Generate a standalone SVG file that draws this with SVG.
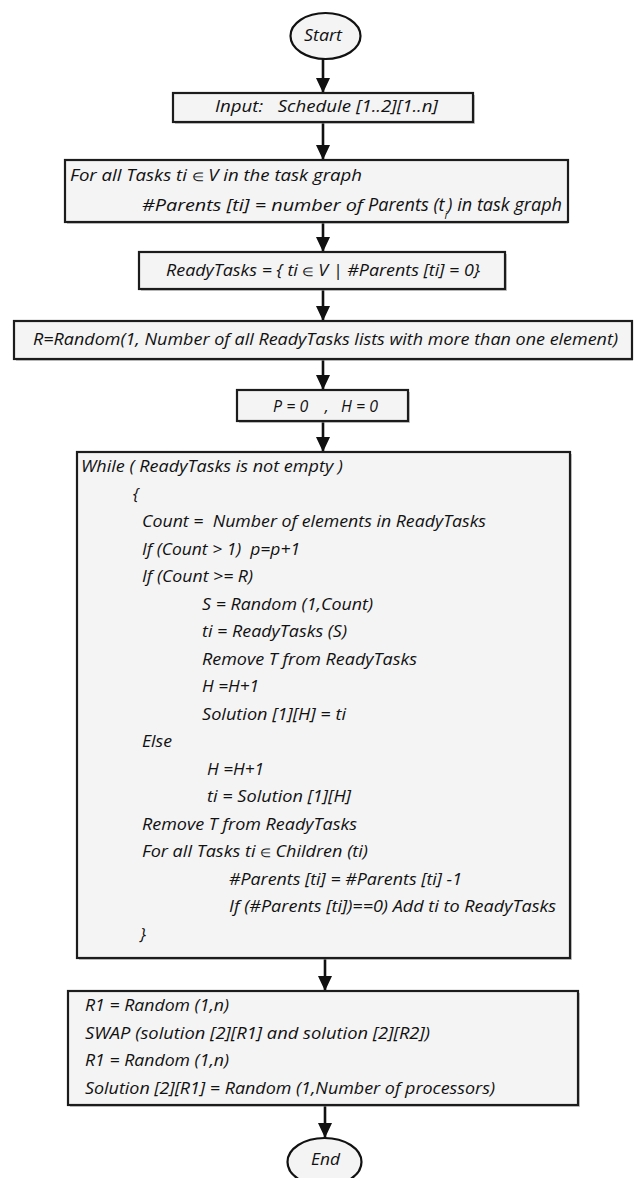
<svg xmlns="http://www.w3.org/2000/svg" width="635" height="1178" viewBox="0 0 635 1178">
  <style>
    .box { fill: #f4f4f4; stroke: #1c1c1c; stroke-width: 2.2; }
    .shadow { fill: #9a9a9a; opacity: 0.55; }
    .term { fill: #f4f4f4; stroke: #111; stroke-width: 2.2; }
    .t { font-family: "Open Sans", "Liberation Sans", sans-serif; font-style: italic; font-weight: 400; font-size: 17px; fill: #111; }
    .s { font-size: 16px; }
    .big { font-size: 18px; }
    .el { font-style: normal; font-size: 12px; }
    .sub { font-size: 11px; }
    .conn line { stroke: #111; stroke-width: 2.6; }
  </style>
  <defs>
    <marker id="arrow" markerUnits="userSpaceOnUse" markerWidth="16" markerHeight="16" viewBox="0 0 16 16" refX="15" refY="8" orient="auto">
      <path d="M0,1 L15,8 L0,15 Z" fill="#111"/>
    </marker>
  </defs>

  <rect width="635" height="1178" fill="#ffffff"/>

  <!-- connectors -->
  <g id="connectors" class="conn">
    <line x1="323" y1="59" x2="323" y2="93" marker-end="url(#arrow)"/>
    <line x1="323" y1="122" x2="323" y2="160" marker-end="url(#arrow)"/>
    <line x1="323" y1="222" x2="323" y2="252" marker-end="url(#arrow)"/>
    <line x1="323" y1="289" x2="323" y2="321" marker-end="url(#arrow)"/>
    <line x1="323" y1="359" x2="323" y2="390" marker-end="url(#arrow)"/>
    <line x1="323" y1="421" x2="323" y2="452" marker-end="url(#arrow)"/>
    <line x1="325" y1="958" x2="325" y2="991" marker-end="url(#arrow)"/>
    <line x1="325" y1="1105" x2="325" y2="1138" marker-end="url(#arrow)"/>
  </g>

  <!-- start terminal -->
  <g id="start">
    <ellipse class="term" cx="325.5" cy="36" rx="35" ry="23"/>
    <text class="t" x="304" y="41" textLength="38" lengthAdjust="spacingAndGlyphs">Start</text>
  </g>

  <!-- input -->
  <g id="input">
    <rect class="shadow" x="175" y="95" width="300" height="29"/>
    <rect class="box" x="173" y="93" width="300" height="29"/>
    <text class="t s" x="215" y="112" textLength="223" lengthAdjust="spacingAndGlyphs" xml:space="preserve">Input:   Schedule [1..2][1..n]</text>
  </g>

  <!-- parent counting -->
  <g id="count-parents">
    <rect class="shadow" x="67" y="162" width="501" height="62"/>
    <rect class="box" x="65" y="160" width="503" height="62"/>
    <text class="t s" x="70" y="181" textLength="292" lengthAdjust="spacingAndGlyphs">For all Tasks ti <tspan class="el">∈</tspan> V in the task graph</text>
    <text class="t s" x="142" y="211" textLength="221" lengthAdjust="spacingAndGlyphs">#Parents [ti] = number of</text>
    <text class="t big" x="368" y="211" textLength="194" lengthAdjust="spacingAndGlyphs">Parents (t<tspan class="sub" baseline-shift="sub">i</tspan>) in task graph</text>
  </g>

  <!-- ready set -->
  <g id="ready-tasks">
    <rect class="shadow" x="141" y="254" width="366" height="37"/>
    <rect class="box" x="139" y="252" width="366" height="37"/>
    <text class="t s" x="166" y="276" textLength="314" lengthAdjust="spacingAndGlyphs">ReadyTasks = { ti <tspan class="el">∈</tspan> V | #Parents [ti] = 0}</text>
  </g>

  <!-- random R -->
  <g id="random-r">
    <rect class="shadow" x="16" y="323" width="617" height="38"/>
    <rect class="box" x="14" y="321" width="618" height="38"/>
    <text class="t" x="33" y="345" textLength="585" lengthAdjust="spacingAndGlyphs">R=Random(1, Number of all ReadyTasks lists with more than one element)</text>
  </g>

  <!-- counters -->
  <g id="init-counters">
    <rect class="shadow" x="239" y="392" width="171" height="31"/>
    <rect class="box" x="237" y="390" width="171" height="31"/>
    <text class="t s" x="273" y="412" textLength="105" lengthAdjust="spacingAndGlyphs" xml:space="preserve">P = 0    ,   H = 0</text>
  </g>

  <!-- main loop -->
  <g id="while-loop">
    <rect class="shadow" x="79" y="454" width="493" height="506"/>
    <rect class="box" x="77" y="452" width="493" height="506"/>
    <text class="t" x="81" y="472" textLength="262" lengthAdjust="spacingAndGlyphs">While ( ReadyTasks is not empty )</text>
    <text class="t" x="133" y="499.5">{</text>
    <text class="t" x="142" y="527" textLength="344" lengthAdjust="spacingAndGlyphs" xml:space="preserve">Count =  Number of elements in ReadyTasks</text>
    <text class="t" x="142" y="554.5" textLength="158" lengthAdjust="spacingAndGlyphs" xml:space="preserve">If (Count &gt; 1)  p=p+1</text>
    <text class="t" x="142" y="582" textLength="111" lengthAdjust="spacingAndGlyphs">If (Count &gt;= R)</text>
    <text class="t" x="202" y="609.5" textLength="171" lengthAdjust="spacingAndGlyphs">S = Random (1,Count)</text>
    <text class="t" x="202" y="637" textLength="145" lengthAdjust="spacingAndGlyphs">ti = ReadyTasks (S)</text>
    <text class="t" x="202" y="664.5" textLength="215" lengthAdjust="spacingAndGlyphs">Remove T from ReadyTasks</text>
    <text class="t" x="202" y="692" textLength="57" lengthAdjust="spacingAndGlyphs">H =H+1</text>
    <text class="t" x="202" y="719.5" textLength="144" lengthAdjust="spacingAndGlyphs">Solution [1][H] = ti</text>
    <text class="t" x="142" y="747" textLength="30" lengthAdjust="spacingAndGlyphs">Else</text>
    <text class="t" x="207" y="774.5" textLength="57" lengthAdjust="spacingAndGlyphs">H =H+1</text>
    <text class="t" x="207" y="802" textLength="144" lengthAdjust="spacingAndGlyphs">ti = Solution [1][H]</text>
    <text class="t" x="142" y="829.5" textLength="215" lengthAdjust="spacingAndGlyphs">Remove T from ReadyTasks</text>
    <text class="t" x="142" y="857" textLength="226" lengthAdjust="spacingAndGlyphs">For all Tasks ti <tspan class="el">∈</tspan> Children (ti)</text>
    <text class="t" x="229" y="884.5" textLength="233" lengthAdjust="spacingAndGlyphs">#Parents [ti] = #Parents [ti] -1</text>
    <text class="t" x="229" y="912" textLength="327" lengthAdjust="spacingAndGlyphs">If (#Parents [ti])==0) Add ti to ReadyTasks</text>
    <text class="t" x="140" y="939.5">}</text>
  </g>

  <!-- mutation -->
  <g id="mutation">
    <rect class="shadow" x="70" y="993" width="510" height="114"/>
    <rect class="box" x="68" y="991" width="510" height="114"/>
    <text class="t" x="85" y="1011" textLength="144" lengthAdjust="spacingAndGlyphs">R1 = Random (1,n)</text>
    <text class="t" x="85" y="1038.5" textLength="345" lengthAdjust="spacingAndGlyphs">SWAP (solution [2][R1] and solution [2][R2])</text>
    <text class="t" x="85" y="1066" textLength="144" lengthAdjust="spacingAndGlyphs">R1 = Random (1,n)</text>
    <text class="t" x="85" y="1093.5" textLength="410" lengthAdjust="spacingAndGlyphs">Solution [2][R1] = Random (1,Number of processors)</text>
  </g>

  <!-- end terminal -->
  <g id="end">
    <ellipse class="term" cx="324.5" cy="1162" rx="37" ry="24"/>
    <text class="t" x="311" y="1165" textLength="29" lengthAdjust="spacingAndGlyphs">End</text>
  </g>
</svg>
